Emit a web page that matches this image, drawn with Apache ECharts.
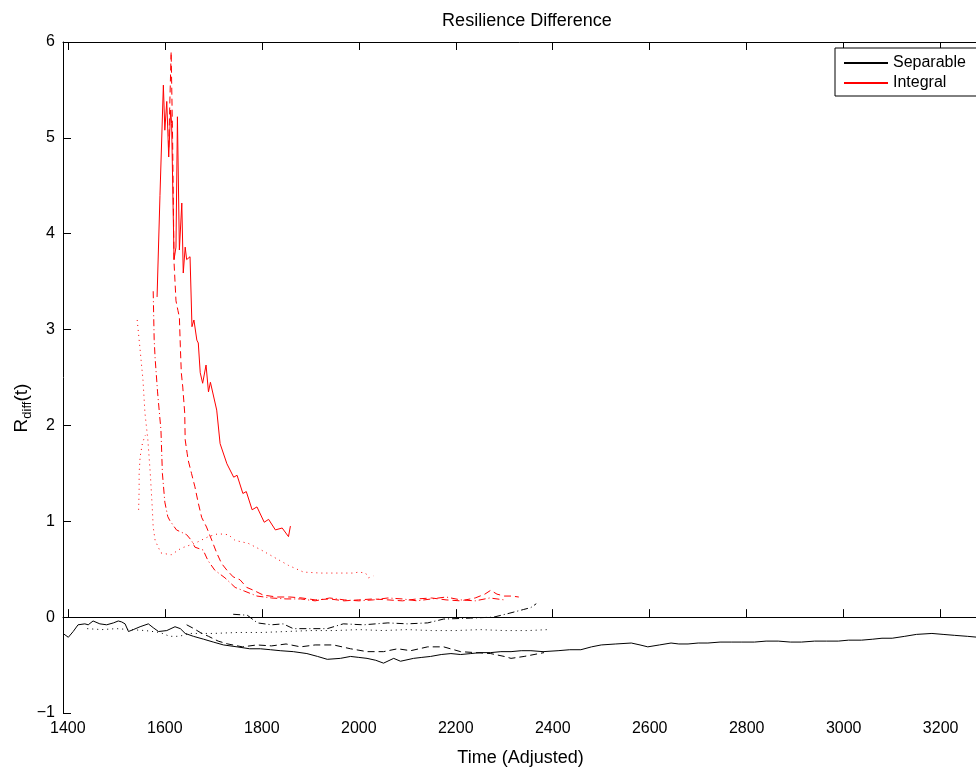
<!DOCTYPE html>
<html>
<head>
<meta charset="utf-8">
<script src="https://cdn.jsdelivr.net/npm/echarts@6/dist/echarts.min.js"></script>
<style>
  html, body { margin: 0; padding: 0; background: #fff; }
  #chart { width: 976px; height: 771px; }
</style>
</head>
<body>
<div id="chart"></div>
<script>
// time ticks shown on the x axis
var xTicks = [1400, 1600, 1800, 2000, 2200, 2400, 2600, 2800, 3000, 3200];

// Separable runs (black), [time, Rdiff]
var sepSolid = [[1390,-0.17],[1401,-0.21],[1411,-0.15],[1421,-0.08],[1435,-0.07],[1442,-0.08],[1452,-0.04],[1466,-0.07],[1480,-0.08],[1494,-0.06],[1504,-0.04],[1511,-0.05],[1518,-0.07],[1525,-0.15],[1535,-0.13],[1549,-0.1],[1566,-0.07],[1576,-0.11],[1587,-0.15],[1604,-0.14],[1621,-0.1],[1632,-0.12],[1642,-0.17],[1659,-0.2],[1680,-0.23],[1700,-0.26],[1721,-0.29],[1749,-0.31],[1775,-0.33],[1797,-0.33],[1818,-0.34],[1838,-0.35],[1865,-0.36],[1893,-0.38],[1915,-0.41],[1935,-0.44],[1962,-0.43],[1983,-0.41],[2000,-0.42],[2017,-0.43],[2035,-0.45],[2051,-0.48],[2072,-0.43],[2086,-0.46],[2113,-0.43],[2130,-0.42],[2148,-0.41],[2170,-0.39],[2190,-0.38],[2210,-0.39],[2231,-0.38],[2250,-0.37],[2272,-0.37],[2293,-0.36],[2314,-0.36],[2335,-0.35],[2355,-0.35],[2380,-0.36],[2411,-0.35],[2435,-0.34],[2458,-0.34],[2480,-0.31],[2500,-0.29],[2530,-0.28],[2562,-0.27],[2580,-0.29],[2596,-0.31],[2620,-0.29],[2644,-0.27],[2660,-0.28],[2679,-0.28],[2700,-0.27],[2720,-0.27],[2745,-0.26],[2768,-0.26],[2790,-0.26],[2816,-0.26],[2840,-0.25],[2865,-0.25],[2890,-0.26],[2913,-0.26],[2940,-0.25],[2965,-0.25],[2989,-0.25],[3010,-0.24],[3037,-0.24],[3060,-0.23],[3079,-0.22],[3100,-0.22],[3126,-0.2],[3150,-0.18],[3182,-0.17],[3205,-0.18],[3229,-0.19],[3255,-0.2],[3277,-0.21]];
var sepDashed = [[1645,-0.08],[1660,-0.12],[1673,-0.16],[1690,-0.2],[1710,-0.25],[1730,-0.28],[1760,-0.31],[1790,-0.29],[1820,-0.3],[1850,-0.28],[1880,-0.31],[1910,-0.29],[1948,-0.29],[1983,-0.33],[2017,-0.36],[2051,-0.36],[2080,-0.33],[2107,-0.35],[2142,-0.31],[2175,-0.31],[2210,-0.36],[2240,-0.37],[2272,-0.38],[2300,-0.41],[2314,-0.43],[2341,-0.41],[2382,-0.37]];
var sepDashDot = [[1741,0.03],[1770,0.02],[1791,-0.06],[1820,-0.08],[1844,-0.07],[1865,-0.12],[1900,-0.12],[1935,-0.12],[1968,-0.07],[2010,-0.08],[2060,-0.06],[2100,-0.07],[2142,-0.06],[2175,-0.02],[2230,-0.01],[2278,0.0],[2310,0.04],[2340,0.08],[2355,0.1],[2366,0.14]];
var sepDotted = [[1440,-0.12],[1470,-0.13],[1500,-0.12],[1530,-0.13],[1560,-0.14],[1590,-0.16],[1610,-0.2],[1630,-0.2],[1650,-0.17],[1700,-0.17],[1750,-0.16],[1800,-0.16],[1850,-0.15],[1900,-0.14],[1950,-0.14],[2000,-0.13],[2050,-0.14],[2100,-0.13],[2150,-0.14],[2200,-0.14],[2250,-0.13],[2300,-0.14],[2350,-0.14],[2390,-0.13]];

// Integral runs (red)
var intSolid = [[1584,3.34],[1590,4.4],[1597,5.55],[1600,5.08],[1604,5.38],[1608,4.8],[1612,5.29],[1614,5.15],[1619,3.73],[1623,3.86],[1626,5.22],[1630,3.83],[1635,4.32],[1638,3.59],[1642,3.86],[1645,3.73],[1652,3.76],[1656,3.03],[1660,3.1],[1666,2.89],[1669,2.86],[1673,2.55],[1678,2.44],[1685,2.63],[1690,2.35],[1694,2.45],[1707,2.16],[1714,1.81],[1728,1.6],[1742,1.46],[1749,1.48],[1761,1.29],[1768,1.31],[1780,1.12],[1790,1.15],[1805,0.99],[1814,1.02],[1828,0.91],[1842,0.93],[1855,0.84],[1859,0.95]];
var intDashed = [[1608,4.9],[1613,5.9],[1616,5.0],[1619,3.7],[1623,3.3],[1627,3.2],[1630,3.13],[1632,2.82],[1634,2.55],[1637,2.4],[1641,2.13],[1642,1.85],[1646,1.71],[1648,1.64],[1655,1.5],[1662,1.36],[1669,1.19],[1676,1.04],[1686,0.94],[1697,0.8],[1707,0.67],[1717,0.56],[1728,0.49],[1741,0.42],[1755,0.39],[1769,0.31],[1783,0.28],[1803,0.23],[1831,0.21],[1858,0.21],[1883,0.2],[1910,0.18],[1940,0.19],[1970,0.17],[2000,0.18],[2030,0.19],[2060,0.18],[2090,0.17],[2120,0.19],[2150,0.2],[2180,0.18],[2210,0.17],[2240,0.2],[2260,0.24],[2272,0.28],[2285,0.24],[2300,0.22],[2315,0.22],[2330,0.21]];
var intDashDot = [[1576,3.4],[1578,2.9],[1580,2.7],[1585,2.35],[1592,1.95],[1595,1.5],[1600,1.2],[1606,1.05],[1610,1.01],[1624,0.91],[1645,0.86],[1655,0.8],[1662,0.73],[1679,0.7],[1689,0.59],[1703,0.49],[1724,0.41],[1745,0.31],[1765,0.27],[1790,0.22],[1820,0.2],[1850,0.19],[1880,0.19],[1910,0.17],[1940,0.2],[1970,0.18],[2000,0.17],[2030,0.18],[2060,0.2],[2090,0.19],[2120,0.17],[2150,0.19],[2180,0.21],[2210,0.18],[2240,0.17],[2270,0.2],[2300,0.18]];
var intDotted = [[1543,3.1],[1549,2.79],[1555,2.47],[1559,2.13],[1565,1.85],[1570,1.5],[1574,1.15],[1576,0.94],[1580,0.8],[1592,0.67],[1613,0.65],[1634,0.72],[1662,0.77],[1690,0.84],[1710,0.87],[1731,0.86],[1745,0.8],[1772,0.77],[1799,0.7],[1827,0.62],[1855,0.54],[1886,0.47],[1921,0.46],[1948,0.46],[1989,0.46],[2000,0.47],[2014,0.46],[2020,0.41],[2030,0.43]];
var intDottedShort = [[1546,1.12],[1547,1.33],[1547,1.5],[1549,1.67],[1554,1.82],[1560,1.9]];

var FONT = '"Liberation Sans", Arial, Helvetica, sans-serif';
var DASH = [7, 4];
var DASHDOT = [7, 3, 1, 3];
var DOT = [1, 4];

function line(name, data, color, type) {
    return {
        name: name,
        type: 'line',
        data: data,
        symbol: 'none',
        showSymbol: false,
        silent: true,
        lineStyle: { color: color, width: 1, type: type },
        itemStyle: { color: color }
    };
}

var chart = echarts.init(document.getElementById('chart'));

var series = [
    line('Separable', sepSolid, '#000', 'solid'),
    line('Integral', intSolid, '#ff0000', 'solid'),
    line('sep2', sepDashed, '#000', DASH),
    line('sep3', sepDashDot, '#000', DASHDOT),
    line('sep4', sepDotted, '#000', DOT),
    line('int2', intDashed, '#ff0000', DASH),
    line('int3', intDashDot, '#ff0000', DASHDOT),
    line('int4', intDotted, '#ff0000', DOT),
    line('int5', intDottedShort, '#ff0000', DOT)
];
// zero line
series[0].markLine = {
    silent: true,
    symbol: 'none',
    label: { show: false },
    lineStyle: { color: '#000', width: 1, type: 'solid' },
    data: [{ yAxis: 0 }]
};

var option = {
    animation: false,
    backgroundColor: '#fff',
    title: {
        text: 'Resilience Difference',
        left: 522,
        top: 7,
        textAlign: 'center',
        textStyle: { fontFamily: FONT, fontSize: 18, fontWeight: 'normal', color: '#000' }
    },
    grid: {
        left: 63, right: -2, top: 42, bottom: 58,
        outerBoundsMode: 'none',
        show: false
    },
    legend: {
        data: ['Separable', 'Integral'],
        orient: 'vertical',
        left: 835,
        top: 48,
        padding: [7, 30, 5, 8],
        itemGap: 4,
        itemWidth: 44,
        itemHeight: 16,
        borderColor: '#000',
        borderWidth: 1,
        borderRadius: 0,
        backgroundColor: '#fff',
        selectedMode: false,
        itemStyle: { opacity: 0 },
        textStyle: { fontFamily: FONT, fontSize: 16, color: '#000' }
    },
    xAxis: [{
        type: 'value',
        min: 1390,
        max: 3277,
        name: 'Time (Adjusted)',
        nameLocation: 'middle',
        nameGap: 36,
        nameTextStyle: { fontFamily: FONT, fontSize: 18, color: '#000' },
        axisLine: { show: true, lineStyle: { color: '#000', width: 1 } },
        axisTick: { show: true, inside: true, length: 8, customValues: xTicks, lineStyle: { color: '#000' } },
        axisLabel: {
            customValues: xTicks, margin: 8, fontFamily: FONT, fontSize: 16, color: '#000',
            formatter: function (v) { return String(v); }
        },
        splitLine: { show: false }
    }, {
        type: 'value',
        position: 'top',
        min: 1390,
        max: 3277,
        axisLine: { show: true, lineStyle: { color: '#000', width: 1 } },
        axisTick: { show: true, inside: true, length: 8, customValues: xTicks, lineStyle: { color: '#000' } },
        axisLabel: { show: false },
        splitLine: { show: false }
    }],
    yAxis: {
        type: 'value',
        min: -1,
        max: 6,
        interval: 1,
        axisLine: { show: true, lineStyle: { color: '#000', width: 1 } },
        axisTick: { show: true, inside: true, length: 8, lineStyle: { color: '#000' } },
        axisLabel: {
            margin: 8, fontFamily: FONT, fontSize: 16, color: '#000',
            formatter: function (v) { return v < 0 ? '\u2212' + Math.abs(v) : String(v); }
        },
        splitLine: { show: false }
    },
    graphic: [{
        type: 'text',
        x: 22,
        y: 408,
        rotation: Math.PI / 2,
        silent: true,
        style: {
            text: '{a|R}{b|diff}{a|(t)}',
            align: 'center',
            verticalAlign: 'middle',
            fill: '#000',
            rich: {
                a: { fontFamily: FONT, fontSize: 19, lineHeight: 24, verticalAlign: 'middle', fill: '#000' },
                b: { fontFamily: FONT, fontSize: 13, lineHeight: 13, verticalAlign: 'bottom', fill: '#000' }
            }
        }
    }],
    series: series
};

chart.setOption(option);
</script>
</body>
</html>
